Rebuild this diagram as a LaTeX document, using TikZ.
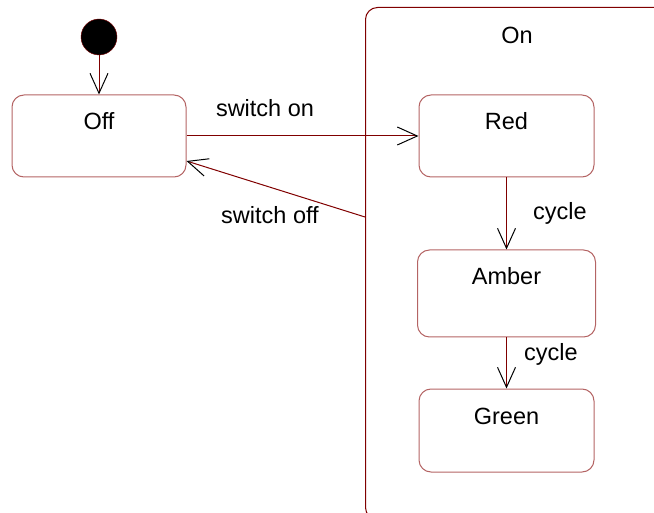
\documentclass[tikz,border=0pt]{standalone}
\usepackage{fontspec}
\setmainfont{Liberation Sans}
\usepackage{tikz}
\usetikzlibrary{positioning,arrows.meta,calc}
\definecolor{LineRed}{RGB}{128,0,0}
\definecolor{BoxRed}{RGB}{180,100,100}

\begin{document}
\begin{tikzpicture}[
    x=1pt, y=-1pt,
    every node/.style={font=\fontsize{23.5}{26}\selectfont},
    state/.style={rectangle, draw=BoxRed, line width=1pt, rounded corners=12pt,
                  minimum width=175pt, minimum height=82pt, inner sep=0pt,
                  text height=17pt, text depth=29pt, align=center},
    composite/.style={rectangle, draw=LineRed, line width=1pt, rounded corners=12pt,
                      inner sep=0pt},
    initial/.style={circle, draw=LineRed, fill=black, minimum size=36pt, inner sep=0pt},
    arrow/.style={-{Straight Barb[length=20pt, width=18pt, color=black]},
                  draw=LineRed, line width=1pt}
]
    \useasboundingbox (0,0) rectangle (654,513);
    \clip (0,0) rectangle (654,513);

    % composite state
    \node[composite, minimum width=330pt, minimum height=512pt, anchor=north west] (on) at (365,7) {};
    \node (onlabel) at (517,35) {On};

    % states
    \node[initial] (init) at (99,37) {};
    \node[state, minimum width=174pt] (off) at (99,136) {Off};
    \node[state] (red) at (506.5,136) {Red};
    \node[state, minimum width=178pt, minimum height=87pt, text depth=35pt] (amber) at (506.5,293.5) {Amber};
    \node[state, minimum height=83pt] (green) at (506.5,430.5) {Green};

    \coordinate (offout) at (365,217);
    \coordinate (offin) at ($(off.east)+(0,25)$);

    % transitions
    \draw[arrow] (init) -- (off);
    \draw[arrow] (off) -- (red);
    \draw[arrow] (offout) -- (offin);
    \draw[arrow] (red) -- (amber);
    \draw[arrow] (amber) -- (green);

    % labels
    \node (lon) at (265,108) {switch on};
    \node (loff) at (270,215) {switch off};
    \node (lcyc1) at (560,213) {cycle};
    \node (lcyc2) at (551,354) {cycle};
\end{tikzpicture}
\end{document}
